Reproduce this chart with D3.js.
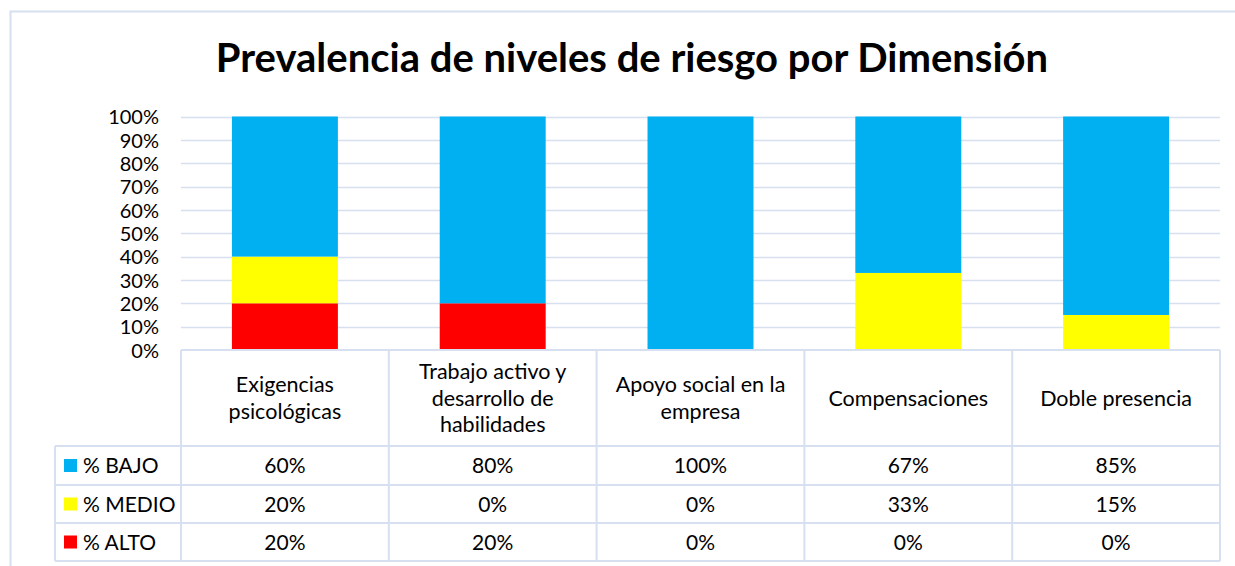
<!DOCTYPE html>
<html>
<head>
<meta charset="utf-8">
<script src="https://cdn.jsdelivr.net/npm/d3@7"></script>
<style>
body { margin: 0; background: #fff; }
text { font-family: Lato, "Noto Sans", sans-serif; fill: #000; }
</style>
</head>
<body>
<div id="chart"></div>
<script>
var width = 1235,
	height = 566;

var categories = [
	"Exigencias psicológicas",
	"Trabajo activo y desarrollo de habilidades",
	"Apoyo social en la empresa",
	"Compensaciones",
	"Doble presencia"
];
var categoryLines = [
	["Exigencias", "psicológicas"],
	["Trabajo activo y", "desarrollo de", "habilidades"],
	["Apoyo social en la", "empresa"],
	["Compensaciones"],
	["Doble presencia"]
];
var seriesNames = ["% BAJO", "% MEDIO", "% ALTO"];
var seriesColors = ["#00B0F0", "#FFFF00", "#FF0000"];
var bajo = [60, 80, 100, 67, 85];
var medio = [20, 0, 0, 33, 15];
var alto = [20, 20, 0, 0, 0];
var yTicks = [0, 10, 20, 30, 40, 50, 60, 70, 80, 90, 100];

var series = [bajo, medio, alto];
var gridColor = "#d6e0f0";

var margin = {left: 181, right: 1220, top: 116.5, bottom: 350};
var rowTops = [350, 446, 485, 523, 561];
var legendLeft = 55;

var svg = d3.select("#chart").append("svg")
	.attr("width", width)
	.attr("height", height)
	.style("display", "block");

// outer chart border
svg.append("path")
	.attr("d", "M10.5," + height + "V11.5H" + width)
	.attr("fill", "none")
	.attr("stroke", gridColor)
	.attr("stroke-width", 2);

svg.append("text")
	.attr("x", 632)
	.attr("y", 72)
	.attr("text-anchor", "middle")
	.style("font-size", "40px")
	.style("font-weight", "bold")
	.text("Prevalencia de niveles de riesgo por Dimensión");

var x = d3.scaleBand()
	.domain(categories)
	.range([margin.left, margin.right])
	.paddingInner(0)
	.paddingOuter(0);

var y = d3.scaleLinear()
	.domain([0, 100])
	.range([margin.bottom, margin.top]);

// gridlines
svg.append("g")
	.selectAll("line")
	.data(yTicks.slice(1))
	.enter()
	.append("line")
	.attr("x1", margin.left)
	.attr("x2", margin.right)
	.attr("y1", function(d){ return Math.round(y(d)) + 0.5; })
	.attr("y2", function(d){ return Math.round(y(d)) + 0.5; })
	.attr("stroke", gridColor)
	.attr("stroke-width", 1.5);

// y axis labels
var yAxis = d3.axisLeft(y)
	.tickValues(yTicks)
	.tickSize(0)
	.tickPadding(22)
	.tickFormat(function(d){ return d + "%"; });

var yG = svg.append("g")
	.attr("transform", "translate(" + margin.left + ",0)")
	.call(yAxis);
yG.select(".domain").remove();
yG.selectAll("text")
	.style("font-size", "20px")
	.style("font-family", "Lato, 'Noto Sans', sans-serif")
	.attr("dy", "0.36em");

// stacked bars
var rows = categories.map(function(c, i){
	return {cat: c, bajo: bajo[i], medio: medio[i], alto: alto[i]};
});
var stack = d3.stack().keys(["alto", "medio", "bajo"]);
var stacked = stack(rows);
var colorByKey = {bajo: seriesColors[0], medio: seriesColors[1], alto: seriesColors[2]};

var barW = x.bandwidth() * 0.51;
svg.append("g")
	.selectAll("g")
	.data(stacked)
	.enter()
	.append("g")
	.attr("fill", function(d){ return colorByKey[d.key]; })
	.selectAll("rect")
	.data(function(d){ return d; })
	.enter()
	.append("rect")
	.attr("x", function(d){ return x(d.data.cat) + (x.bandwidth() - barW) / 2; })
	.attr("width", barW)
	.attr("y", function(d){ return y(d[1]); })
	.attr("height", function(d){ return y(d[0]) - y(d[1]); });

// data table
var table = svg.append("g")
	.attr("stroke", gridColor)
	.attr("stroke-width", 2)
	.attr("fill", "none");

// horizontal lines
rowTops.forEach(function(ty, i){
	table.append("line")
		.attr("x1", i === 0 ? margin.left : legendLeft)
		.attr("x2", margin.right)
		.attr("y1", ty)
		.attr("y2", ty);
});
// vertical lines
table.append("line")
	.attr("x1", legendLeft).attr("x2", legendLeft)
	.attr("y1", rowTops[1]).attr("y2", rowTops[4]);
categories.concat([null]).forEach(function(c, i){
	var lx = c === null ? margin.right : x(c);
	table.append("line")
		.attr("x1", lx).attr("x2", lx)
		.attr("y1", rowTops[0]).attr("y2", rowTops[4]);
});

// header labels
var headerMid = (rowTops[0] + rowTops[1]) / 2;
categories.forEach(function(c, i){
	var lines = categoryLines[i];
	var lh = 26.5;
	var t = svg.append("text")
		.attr("text-anchor", "middle")
		.style("font-size", "21.5px");
	lines.forEach(function(l, j){
		t.append("tspan")
			.attr("x", x(c) + x.bandwidth() / 2)
			.attr("y", headerMid + (j - (lines.length - 1) / 2) * lh)
			.attr("dy", "0.36em")
			.text(l);
	});
});

// value rows
series.forEach(function(vals, r){
	var cy = (rowTops[r + 1] + rowTops[r + 2]) / 2;
	svg.append("rect")
		.attr("x", 64)
		.attr("y", cy - 6.5)
		.attr("width", 13)
		.attr("height", 13)
		.attr("fill", seriesColors[r]);
	svg.append("text")
		.attr("x", 83)
		.attr("y", cy)
		.attr("dy", "0.36em")
		.style("font-size", "21px")
		.text(seriesNames[r]);
	vals.forEach(function(v, i){
		svg.append("text")
			.attr("x", x(categories[i]) + x.bandwidth() / 2)
			.attr("y", cy)
			.attr("dy", "0.36em")
			.attr("text-anchor", "middle")
			.style("font-size", "21px")
			.text(v + "%");
	});
});
</script>
</body>
</html>
